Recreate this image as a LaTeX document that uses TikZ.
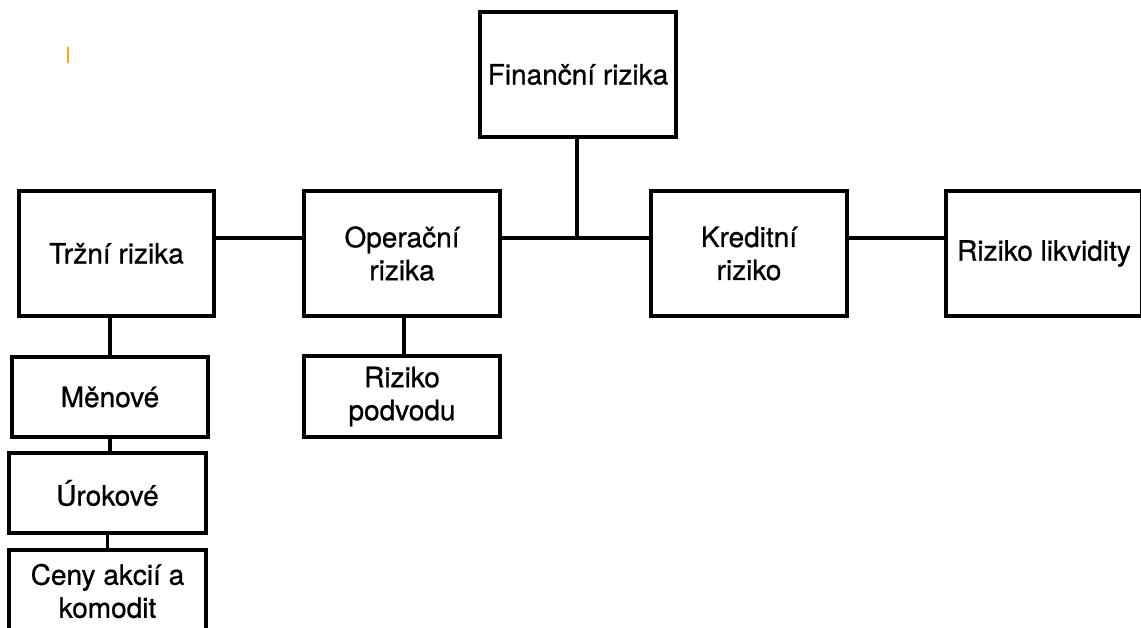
\documentclass[tikz,border=0pt]{standalone}
\usepackage{fontspec}
\setmainfont{TeX Gyre Heros}[FakeBold=0.8]
\begin{document}
\begin{tikzpicture}[x=1pt,y=-1pt,
  box/.style={draw=black, line width=3.3pt, rectangle, inner sep=0pt, align=center,
    font=\fontsize{28}{33}\selectfont},
  conn/.style={line width=3.3pt, black},
]
\useasboundingbox (0,0) rectangle (1141,628);
\clip (0,0) rectangle (1141,628);
\fill[white] (0,0) rectangle (1141,628);
% orange mark
\draw[line width=2.6pt, color={rgb,255:red,245;green,166;blue,35}] (68,47) -- (68,63);
% nodes
\node[box, minimum width=196pt, minimum height=125pt] (fin) at (578,74.5) {Finanční rizika};
\node[box, minimum width=195pt, minimum height=125pt] (trz) at (116.5,253.5) {Tržní rizika};
\node[box, minimum width=196pt, minimum height=125pt] (op) at (402,253.5) {Operační\\rizika};
\node[box, minimum width=196pt, minimum height=125pt] (kred) at (749,253.5) {Kreditní\\riziko};
\node[box, minimum width=196pt, minimum height=125pt] (likv) at (1044,253.5) {\raisebox{-2pt}{Riziko likvidity}};
\node[box, minimum width=196pt, minimum height=80pt] (men) at (110,397) {Měnové};
\node[box, minimum width=197pt, minimum height=80pt] (uro) at (107.5,493) {Úrokové};
\node[box, minimum width=197pt, minimum height=82pt] (ceny) at (107.5,591) {Ceny akcií a\\komodit};
\node[box, minimum width=196pt, minimum height=81pt] (pod) at (402,396.5) {Riziko\\podvodu};
% junction coordinates
\coordinate (j) at (577,238);
\coordinate (jt) at (110,0);
\coordinate (jo) at (404,0);
% connectors
\draw[conn] (trz.east |- j) -- (op.west |- j);
\draw[conn] (op.east |- j) -- (kred.west |- j);
\draw[conn] (kred.east |- j) -- (likv.west |- j);
\draw[conn] (fin.south -| j) -- (j);
\draw[conn] (trz.south -| jt) -- (men.north -| jt);
\draw[conn] (men.south -| jt) -- (uro.north -| jt);
\draw[conn] (uro.south) -- (ceny.north);
\draw[conn] (op.south -| jo) -- (pod.north -| jo);
\end{tikzpicture}
\end{document}
